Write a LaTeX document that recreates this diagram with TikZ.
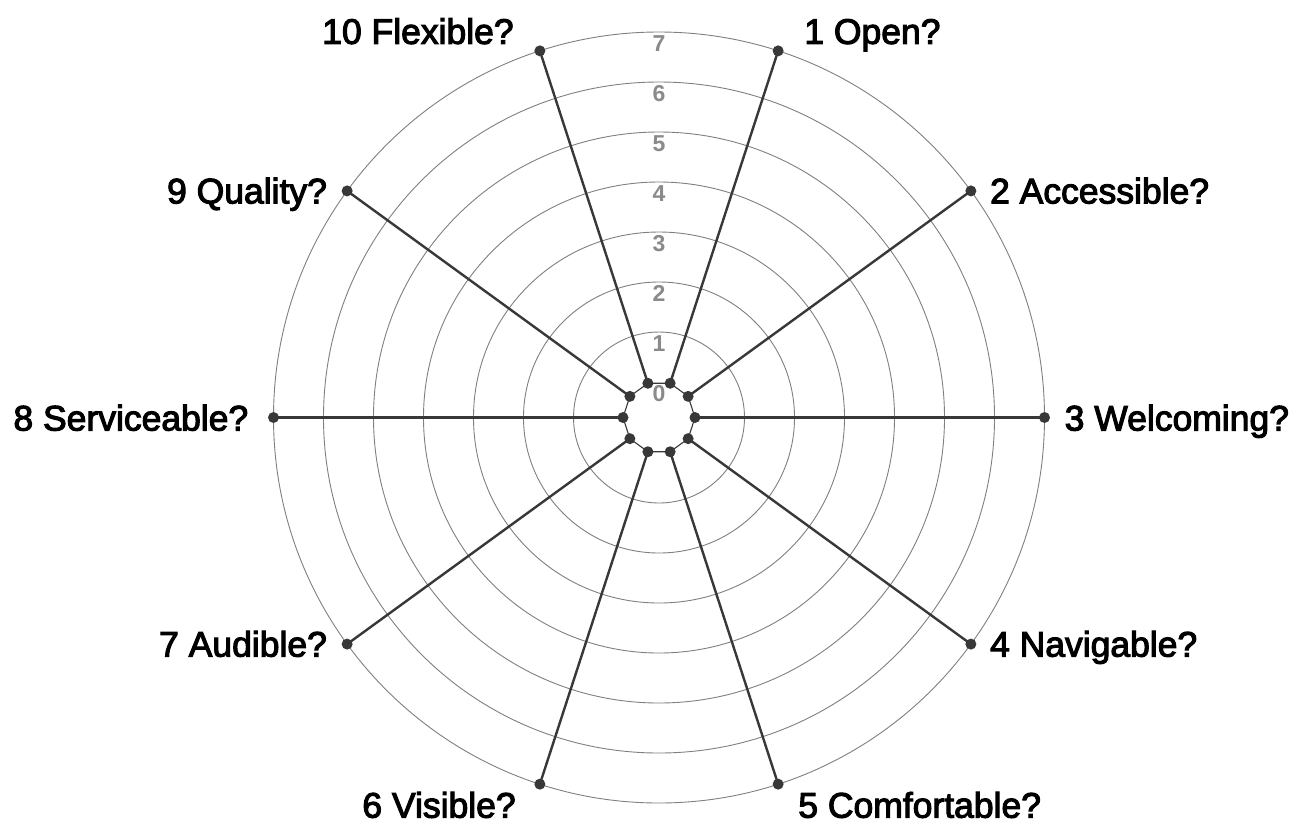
\documentclass[tikz,border=0pt]{standalone}
\usepackage{fontspec}
\setmainfont{Liberation Sans}
\newfontfamily\labfont[FakeBold=3]{Liberation Sans}
\newfontfamily\numfont{Liberation Sans Bold}
\definecolor{ringgray}{HTML}{808080}
\definecolor{numgray}{HTML}{8A8A8A}
\definecolor{spokegray}{HTML}{383838}
\tikzset{
  ring/.style={draw=ringgray, line width=0.9pt},
  spoke/.style={draw=spokegray, line width=2.4pt},
  innerpoly/.style={draw=spokegray, line width=1.1pt},
  dotnode/.style={circle, fill=spokegray, inner sep=0pt, minimum size=11pt},
  lab/.style={inner sep=0pt, font=\labfont\fontsize{35.5}{40}\selectfont, text=black},
  num/.style={inner sep=0pt, font=\numfont\fontsize{23}{26}\selectfont, text=numgray}
}
\begin{document}
\begin{tikzpicture}[x=1pt,y=-1pt]
\useasboundingbox[fill=white] (0,0) rectangle (1297,823);
\coordinate (c) at (659,417.5);
% rings
\foreach \v in {1,...,7}{
  \draw[ring] (c) circle[radius={(35.5+50*\v)*1pt}];
}
% ring numbers
\foreach \v in {0,...,7}{
  \node[num] (n\v) at (659,{417.5-(35.5+50*\v)+11.5}) {\v};
}
% spoke end coordinates
\begin{scope}[shift={(c)}]
\foreach \k in {1,...,10}{
  \pgfmathsetmacro{\ang}{72-36*(\k-1)}
  \coordinate (o\k) at (\ang:385.5pt);
  \coordinate (i\k) at (\ang:36pt);
}
\end{scope}
% spokes
\foreach \k in {1,...,10}{
  \draw[spoke] (i\k) -- (o\k);
}
% inner polygon
\draw[innerpoly] (i1) -- (i2) -- (i3) -- (i4) -- (i5) -- (i6) -- (i7) -- (i8) -- (i9) -- (i10) -- cycle;
% dots
\foreach \k in {1,...,10}{
  \node[dotnode] (do\k) at (o\k) {};
  \node[dotnode] (di\k) at (i\k) {};
}
% labels
\node[lab, anchor=base west] (l1) at ([shift={(26,-7)}]o1) {1 Open?};
\node[lab, anchor=base west] (l2) at ([shift={(19,12.5)}]o2) {2 Accessible?};
\node[lab, anchor=base west] (l3) at ([shift={(20,13)}]o3) {3 Welcoming?};
\node[lab, anchor=base west] (l4) at ([shift={(19,12.5)}]o4) {4 Navigable?};
\node[lab, anchor=base west] (l5) at ([shift={(20,33.5)}]o5) {5 Comfortable?};
\node[lab, anchor=base east] (l6) at ([shift={(-24,33.5)}]o6) {6 Visible?};
\node[lab, anchor=base east] (l7) at ([shift={(-20,12.5)}]o7) {7 Audible?};
\node[lab, anchor=base east] (l8) at ([shift={(-25,13)}]o8) {8 Serviceable?};
\node[lab, anchor=base east] (l9) at ([shift={(-20,12.5)}]o9) {9 Quality?};
\node[lab, anchor=base east] (l10) at ([shift={(-26,-7)}]o10) {10 Flexible?};
\end{tikzpicture}
\end{document}
